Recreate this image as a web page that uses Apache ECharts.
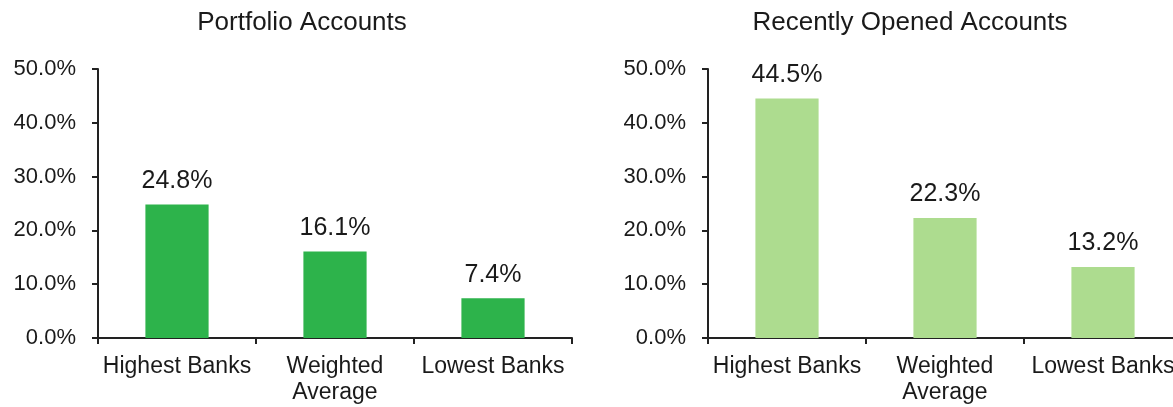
<!DOCTYPE html>
<html>
<head>
<meta charset="utf-8">
<script src="https://cdn.jsdelivr.net/npm/echarts@6/dist/echarts.min.js"></script>
<style>
  html, body { margin: 0; padding: 0; background: #fff; }
  #chart { width: 1173px; height: 407px; }
</style>
</head>
<body>
<div id="chart"></div>
<script>
// data
const categories = ['Highest Banks', 'Weighted\nAverage', 'Lowest Banks']
const portfolioValues = [24.8, 16.1, 7.4]
const recentValues = [44.5, 22.3, 13.2]
const yTicks = [0, 10, 20, 30, 40, 50]

const chart = echarts.init(document.getElementById('chart'))
const font = 'Liberation Sans, Arial, sans-serif'
const axisColor = '#222'
const textColor = '#1a1a1a'

function xAxis(idx) {
  return {
    type: 'category',
    gridIndex: idx,
    data: categories,
    boundaryGap: true,
    axisLine: { lineStyle: { color: axisColor, width: 2 } },
    axisTick: { show: true, length: 6, lineStyle: { color: axisColor, width: 2 } },
    axisLabel: { color: textColor, fontFamily: font, fontSize: 23, lineHeight: 26, margin: 16, interval: 0 }
  }
}
function yAxis(idx) {
  return {
    type: 'value',
    gridIndex: idx,
    min: yTicks[0],
    max: yTicks[yTicks.length - 1],
    interval: 10,
    splitLine: { show: false },
    axisLine: { show: true, lineStyle: { color: axisColor, width: 2 } },
    axisTick: { show: true, length: 6, lineStyle: { color: axisColor, width: 2 } },
    axisLabel: {
      color: textColor, fontFamily: font, fontSize: 22, margin: 22,
      formatter: v => v.toFixed(1) + '%'
    }
  }
}
function barSeries(idx, data, color) {
  return {
    type: 'bar',
    xAxisIndex: idx,
    yAxisIndex: idx,
    data: data,
    barWidth: '40%',
    itemStyle: { color: color },
    label: {
      show: true,
      position: 'top',
      distance: 11,
      color: textColor,
      fontFamily: font,
      fontSize: 25,
      formatter: p => p.value.toFixed(1) + '%'
    }
  }
}

chart.setOption({
  animation: false,
  title: [
    { text: 'Portfolio Accounts', left: 297, top: 5, textAlign: 'center',
      textStyle: { fontFamily: font, fontSize: 26, fontWeight: 'normal', color: textColor } },
    { text: 'Recently Opened Accounts', left: 905, top: 5, textAlign: 'center',
      textStyle: { fontFamily: font, fontSize: 26, fontWeight: 'normal', color: textColor } }
  ],
  grid: [
    { left: 98, width: 474, top: 69, height: 269, outerBoundsMode: 'none' },
    { left: 708, width: 474, top: 69, height: 269, outerBoundsMode: 'none' }
  ],
  xAxis: [xAxis(0), xAxis(1)],
  yAxis: [yAxis(0), yAxis(1)],
  series: [
    barSeries(0, portfolioValues, '#2db34b'),
    barSeries(1, recentValues, '#addc8f')
  ]
})
</script>
</body>
</html>
